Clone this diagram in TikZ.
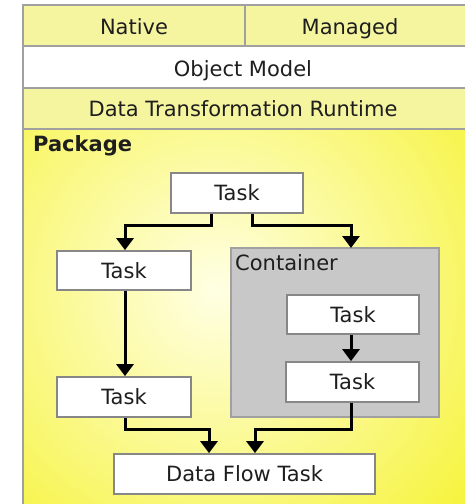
\documentclass[tikz,border=0pt]{standalone}
\usepackage{fontspec}
\setmainfont{DejaVu Sans}
\usetikzlibrary{arrows.meta}
\definecolor{rowyel}{RGB}{245,245,160}
\definecolor{pkgout}{RGB}{245,242,40}
\definecolor{pkgin}{RGB}{255,255,228}
\definecolor{bordgray}{RGB}{160,160,160}
\definecolor{boxgray}{RGB}{135,135,135}
\definecolor{contgray}{RGB}{200,200,200}
\definecolor{txt}{RGB}{30,30,30}
\begin{document}
\begin{tikzpicture}[x=1pt,y=-1pt,
  font=\fontsize{21}{24}\selectfont,
  txtstyle/.style={text=txt, inner sep=0pt},
  rowbox/.style={draw=bordgray, line width=2pt, fill=rowyel},
  taskbox/.style={draw=boxgray, line width=1.8pt, fill=white},
  conn/.style={line width=3pt, draw=black, -{Triangle[length=12pt,width=17pt]}}]
\useasboundingbox (0,0) rectangle (464,504);
% package background
\fill[pkgout] (23,129) rectangle (466,506);
\begin{scope}
  \clip (23,129) rectangle (466,506);
  \shade[inner color=pkgin, outer color=pkgout] (215,290) circle (370);
\end{scope}
\draw[draw=bordgray, line width=2pt] (23,129) -- (23,506);
% rows
\draw[rowbox] (23,5) rectangle (466,46);
\draw[draw=bordgray, line width=2pt] (245,5) -- (245,46);
\draw[draw=bordgray, line width=2pt, fill=white] (23,46) rectangle (466,88);
\draw[rowbox] (23,88) rectangle (466,129);
\node[txtstyle, anchor=base] (native) at (134,34) {Native};
\node[txtstyle, anchor=base] (managed) at (350,34) {Managed};
\node[txtstyle, anchor=base] (om) at (243,76) {Object Model};
\node[txtstyle, anchor=base] (dtr) at (243,116) {Data Transformation Runtime};
\node[txtstyle, anchor=base west, font=\fontsize{21}{24}\selectfont\bfseries] (pkg) at (33,151) {Package};
% container
\draw[draw=bordgray, line width=2pt, fill=contgray] (231,248) rectangle (439,417);
\node[txtstyle, anchor=base west] (cont) at (235,270) {Container};
\coordinate (conttop) at (351,248);
% tasks
\node[taskbox, minimum width=132pt, minimum height=40pt, inner sep=0pt, text=txt] (t1) at (237,193) {Task};
\node[taskbox, minimum width=134pt, minimum height=39pt, inner sep=0pt, text=txt] (t2) at (124,270.5) {Task};
\node[taskbox, minimum width=134pt, minimum height=40pt, inner sep=0pt, text=txt] (t3) at (124,397) {Task};
\node[taskbox, minimum width=132pt, minimum height=39pt, inner sep=0pt, text=txt] (c1) at (353,314.5) {Task};
\node[taskbox, minimum width=133pt, minimum height=40pt, inner sep=0pt, text=txt] (c2) at (352.5,382) {Task};
\node[taskbox, minimum width=261pt, minimum height=40pt, inner sep=0pt, text=txt] (dft) at (244.5,474) {Data Flow Task};
% connectors
\draw[conn] (t1.south -| 211,0) |- (125,225) -- (t2.north -| 125,0);
\draw[conn] (t1.south -| 252,0) |- (351,225) -- (conttop);
\draw[conn] (t2.south -| 125,0) -- (t3.north -| 125,0);
\draw[conn] (c1.south -| 351,0) -- (c2.north -| 351,0);
\draw[conn] (t3.south -| 125,0) |- (209,429) -- (dft.north -| 209,0);
\draw[conn] (c2.south -| 351,0) |- (255,429) -- (dft.north -| 255,0);
\end{tikzpicture}
\end{document}
